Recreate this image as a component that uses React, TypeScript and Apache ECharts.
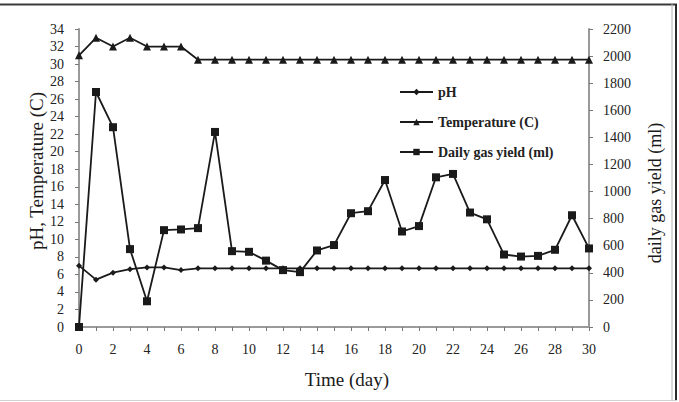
import React, { useEffect, useRef } from "react";
import * as echarts from "echarts";

// Day numbers (x axis)
const days: number[] = Array.from({ length: 31 }, (_, i) => i);

// pH reading per day
const phValues: number[] = [
  7.0, 5.4, 6.2, 6.6, 6.8, 6.8, 6.5, 6.7, 6.7, 6.7, 6.7, 6.7, 6.7, 6.7, 6.7, 6.7,
  6.7, 6.7, 6.7, 6.7, 6.7, 6.7, 6.7, 6.7, 6.7, 6.7, 6.7, 6.7, 6.7, 6.7, 6.7,
];

// Digester temperature (C) per day
const tempValues: number[] = [
  31, 33, 32, 33, 32, 32, 32, 30.5, 30.5, 30.5, 30.5, 30.5, 30.5, 30.5, 30.5, 30.5,
  30.5, 30.5, 30.5, 30.5, 30.5, 30.5, 30.5, 30.5, 30.5, 30.5, 30.5, 30.5, 30.5, 30.5, 30.5,
];

// Daily gas yield (ml) per day
const gasValues: number[] = [
  0, 1735, 1475, 575, 190, 715, 720, 730, 1440, 560, 555, 490, 420, 405, 565, 605,
  840, 855, 1085, 705, 745, 1105, 1130, 845, 795, 535, 520, 525, 570, 825, 580,
];

const SERIF = '"Liberation Serif", "Times New Roman", serif';
const INK = "#1a1a1a";
const AXIS_GRAY = "#9a9a9a";

export default function App() {
  const ref = useRef<HTMLDivElement>(null);

  useEffect(() => {
    if (!ref.current) return;
    const chart = echarts.init(ref.current, undefined, { renderer: "svg" });

    const pair = (vals: number[]) => days.map((d, i) => [d, vals[i]]);
    const lineStyle = { color: INK, width: 1.8 };
    const itemStyle = { color: INK };
    const tickLabel = { fontFamily: SERIF, fontSize: 14, color: "#222" };

    chart.setOption({
      animation: false,
      backgroundColor: "#ffffff",
      textStyle: { fontFamily: SERIF },
      grid: { left: 79, right: 90, top: 29, bottom: 75, containLabel: false },
      legend: {
        orient: "vertical",
        left: 399,
        top: 85,
        padding: 0,
        itemWidth: 33,
        itemHeight: 8,
        itemGap: 16,
        textStyle: { fontFamily: SERIF, fontSize: 14, fontWeight: "bold", color: "#222" },
        data: ["pH", "Temperature (C)", "Daily gas yield (ml)"],
      },
      xAxis: {
        type: "value",
        min: 0,
        max: 30,
        interval: 1,
        axisLine: { lineStyle: { color: AXIS_GRAY, width: 2 } },
        axisTick: { length: 4, lineStyle: { color: "#777", width: 1 } },
        axisLabel: {
          ...tickLabel,
          margin: 15,
          formatter: (v: number) => (v % 2 === 0 ? String(v) : ""),
        },
        splitLine: { show: false },
      },
      yAxis: [
        {
          type: "value",
          min: 0,
          max: 34,
          interval: 2,
          axisLine: { show: true, lineStyle: { color: AXIS_GRAY, width: 2 } },
          axisTick: { show: true, length: 4, lineStyle: { color: "#777", width: 1 } },
          axisLabel: { ...tickLabel, margin: 15, formatter: (v: number) => String(v) },
          splitLine: { show: false },
        },
        {
          type: "value",
          min: 0,
          max: 2200,
          interval: 200,
          position: "right",
          axisLine: { show: true, lineStyle: { color: AXIS_GRAY, width: 2 } },
          axisTick: { show: true, length: 4, lineStyle: { color: "#777", width: 1 } },
          axisLabel: { ...tickLabel, margin: 14, formatter: (v: number) => String(v) },
          splitLine: { show: false },
        },
      ],
      series: [
        {
          name: "pH",
          type: "line",
          data: pair(phValues),
          symbol: "diamond",
          symbolSize: 6,
          lineStyle,
          itemStyle,
        },
        {
          name: "Temperature (C)",
          type: "line",
          data: pair(tempValues),
          symbol: "triangle",
          symbolSize: 8,
          lineStyle,
          itemStyle,
        },
        {
          name: "Daily gas yield (ml)",
          type: "line",
          yAxisIndex: 1,
          data: pair(gasValues),
          symbol: "rect",
          symbolSize: 8,
          lineStyle,
          itemStyle,
        },
      ],
      graphic: [
        {
          type: "text",
          x: 36,
          y: 171,
          rotation: Math.PI / 2,
          style: {
            text: "pH, Temperature (C)",
            fontFamily: SERIF,
            fontSize: 19,
            fill: INK,
            textAlign: "center",
            textVerticalAlign: "middle",
          },
        },
        {
          type: "text",
          x: 655,
          y: 193,
          rotation: Math.PI / 2,
          style: {
            text: "daily gas yield (ml)",
            fontFamily: SERIF,
            fontSize: 18,
            fill: INK,
            textAlign: "center",
            textVerticalAlign: "middle",
          },
        },
        {
          type: "text",
          x: 347,
          y: 379,
          style: {
            text: "Time (day)",
            fontFamily: SERIF,
            fontSize: 19,
            fill: INK,
            textAlign: "center",
            textVerticalAlign: "middle",
          },
        },
        // frame lines
        {
          type: "line",
          shape: { x1: 0, y1: 4.5, x2: 677, y2: 4.5 },
          style: { stroke: "#3a3a3a", lineWidth: 2 },
        },
        {
          type: "line",
          shape: { x1: 676, y1: 4, x2: 676, y2: 400 },
          style: { stroke: "#2a2a2a", lineWidth: 2 },
        },
        {
          type: "line",
          shape: { x1: 672, y1: 4, x2: 672, y2: 400 },
          style: { stroke: "#b0b0b0", lineWidth: 1 },
        },
        {
          type: "line",
          shape: { x1: 0, y1: 400.5, x2: 677, y2: 400.5 },
          style: { stroke: "#d0d0d0", lineWidth: 1 },
        },
      ],
    });

    return () => chart.dispose();
  }, []);

  return (
    <div
      ref={ref}
      style={{ position: "fixed", left: 0, top: 0, width: 679, height: 402, background: "#fff" }}
    />
  );
}
